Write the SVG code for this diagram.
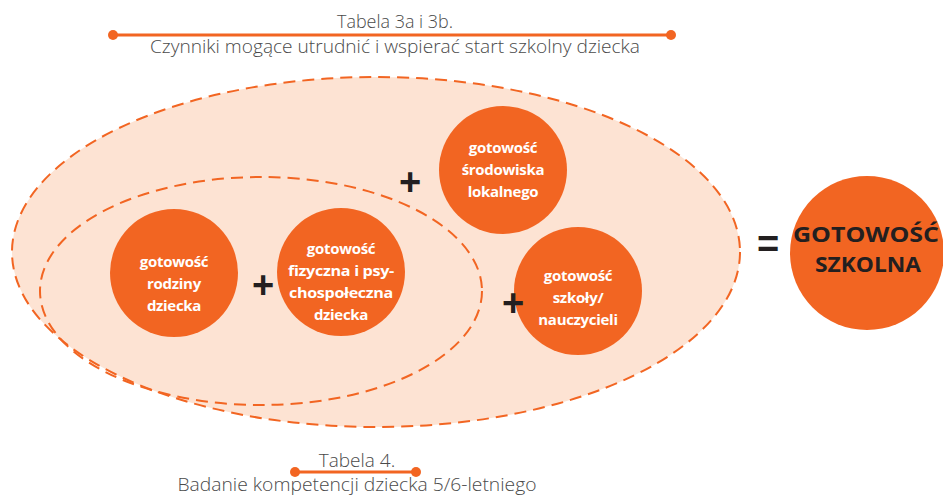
<svg xmlns="http://www.w3.org/2000/svg" width="943" height="497" viewBox="0 0 943 497">
<style>
.cap{font-family:"Open Sans","Liberation Sans",sans-serif;font-size:19px;fill:#4a4a4a;font-weight:300;text-anchor:middle}
.lbl{font-family:"Open Sans","Liberation Sans",sans-serif;font-size:15px;font-weight:700;fill:#fff;text-anchor:middle;letter-spacing:-0.3px}
.big{font-family:"Open Sans","Liberation Sans",sans-serif;font-size:22px;font-weight:700;fill:#231f20;text-anchor:middle}
.op{font-family:"Liberation Sans",sans-serif;font-size:38px;font-weight:700;fill:#231f20;text-anchor:middle}
.node{fill:#f26522}
.dash{stroke:#f26522;stroke-width:2;stroke-dasharray:12 7}
.rule{stroke:#f26522;stroke-width:3}
.dot{fill:#f26522}
</style>
<g id="title-top">
<line class="rule" x1="113" y1="35" x2="671" y2="35"/>
<circle class="dot" cx="113" cy="35" r="5"/>
<circle class="dot" cx="671" cy="35" r="5"/>
<text class="cap" x="395" y="28" textLength="116" lengthAdjust="spacingAndGlyphs">Tabela 3a i 3b.</text>
<text class="cap" x="395" y="53" textLength="490" lengthAdjust="spacingAndGlyphs">Czynniki mogące utrudnić i wspierać start szkolny dziecka</text>
</g>
<g id="outer-group">
<ellipse cx="376" cy="252" rx="364" ry="175" fill="#fde3d3" class="dash"/>
</g>
<g id="inner-group">
<ellipse class="dash" cx="261" cy="291" rx="221" ry="114" fill="none"/>
</g>
<g id="n-rodziny">
<circle class="node" cx="174" cy="273" r="64"/>
<text class="lbl" x="174" y="267">gotowość</text>
<text class="lbl" x="174" y="289">rodziny</text>
<text class="lbl" x="174" y="311">dziecka</text>
</g>
<g id="n-fizyczna">
<circle class="node" cx="341" cy="272" r="64"/>
<text class="lbl" x="341" y="254">gotowość</text>
<text class="lbl" x="341" y="276" textLength="106" lengthAdjust="spacingAndGlyphs">fizyczna i psy-</text>
<text class="lbl" x="341" y="298" textLength="104" lengthAdjust="spacingAndGlyphs">chospołeczna</text>
<text class="lbl" x="341" y="320">dziecka</text>
</g>
<g id="n-srodowiska">
<circle class="node" cx="503" cy="170" r="64"/>
<text class="lbl" x="503" y="153">gotowość</text>
<text class="lbl" x="503" y="175">środowiska</text>
<text class="lbl" x="503" y="197">lokalnego</text>
</g>
<g id="n-szkoly">
<circle class="node" cx="578" cy="291" r="64"/>
<text class="lbl" x="578" y="281">gotowość</text>
<text class="lbl" x="578" y="303">szkoły/</text>
<text class="lbl" x="578" y="325">nauczycieli</text>
</g>
<g id="n-gotowosc">
<circle class="node" cx="867" cy="253" r="77"/>
<text class="big" x="866" y="242" textLength="146" lengthAdjust="spacingAndGlyphs">GOTOWOŚĆ</text>
<text class="big" x="868" y="272" textLength="106" lengthAdjust="spacingAndGlyphs">SZKOLNA</text>
</g>
<g id="operators">
<text class="op" x="410" y="195">+</text>
<text class="op" x="263" y="298">+</text>
<text class="op" x="513" y="316">+</text>
<text class="op" x="768" y="257">=</text>
</g>
<g id="title-bottom">
<line class="rule" x1="295" y1="472" x2="416" y2="472"/>
<circle class="dot" cx="295" cy="472" r="5"/>
<circle class="dot" cx="416" cy="472" r="5"/>
<text class="cap" x="357" y="467">Tabela 4.</text>
<text class="cap" x="357" y="491" textLength="359" lengthAdjust="spacingAndGlyphs">Badanie kompetencji dziecka 5/6-letniego</text>
</g>
</svg>
